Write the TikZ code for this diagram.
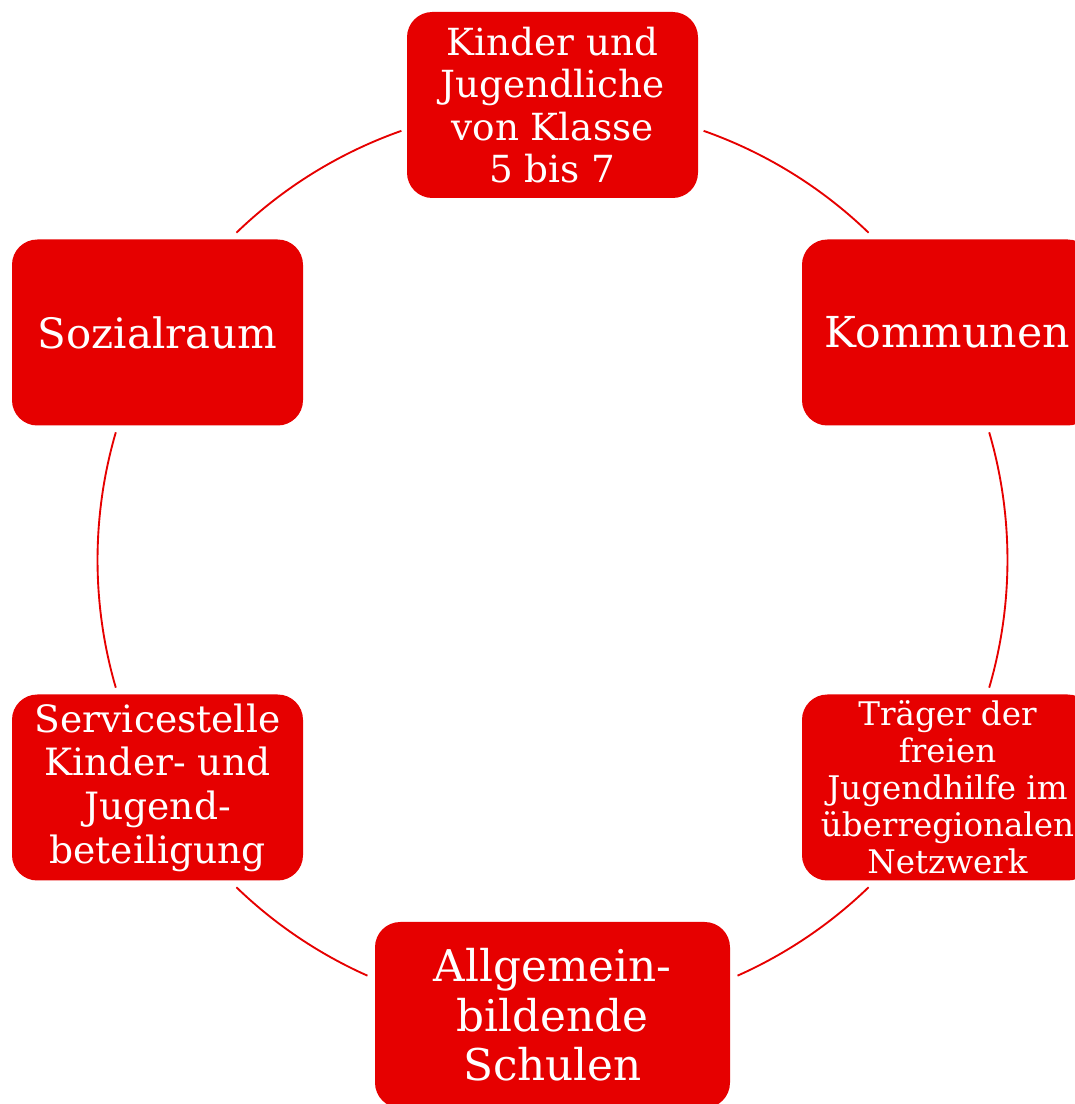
\documentclass[tikz,border=0pt]{standalone}
\usepackage{fontspec}
\setmainfont{DejaVu Serif}
\usetikzlibrary{positioning}
\definecolor{boxred}{RGB}{230,0,0}

\tikzset{
    partner/.style={fill=boxred, rounded corners=19pt, text=white, align=center,
        inner sep=0pt, minimum width=218.25pt, minimum height=139.5pt},
    ring/.style={draw=boxred, line width=1.4pt}
}

\begin{document}
\begin{tikzpicture}[x=0.75pt, y=0.75pt]
            % Page frame
            \clip (0,0) rectangle (1075,1104);
            \coordinate (cen) at (552.5,544);

            % Ring between the partners
            \foreach \a/\b in {70.6/46, 16.3/-16.3, -46/-66, -114/-134, 196.3/163.7, 134/109.4}
                \draw[ring] ([shift={(\a:341.25pt)}]cen) arc[start angle=\a, end angle=\b, radius=341.25pt];

            % Partners
            \node[partner, font=\fontsize{28}{31.9}\selectfont] (kids) at (552.5,999)
                {Kinder und\\Jugendliche\\von Klasse\\5 bis 7};
            \node[partner, font=\fontsize{32}{36}\selectfont] (kommunen) at (947.5,771.5) {Kommunen};
            \node[partner, font=\fontsize{24.4}{27.7}\selectfont] (traeger) at (947.5,316.5)
                {Träger der\\freien\\Jugendhilfe im\\überregionalen\\Netzwerk};
            \node[partner, minimum width=266.25pt, font=\fontsize{32.8}{37.1}\selectfont] (schulen) at (552.5,89)
                {Allgemein-\\bildende\\Schulen};
            \node[partner, font=\fontsize{28.2}{32.8}\selectfont] (service) at (157.5,316.5)
                {Servicestelle\\Kinder- und\\Jugend-\\beteiligung};
            \node[partner, font=\fontsize{31.4}{36}\selectfont] (sozial) at (157.5,771.5) {Sozialraum};
        \end{tikzpicture}
\end{document}
